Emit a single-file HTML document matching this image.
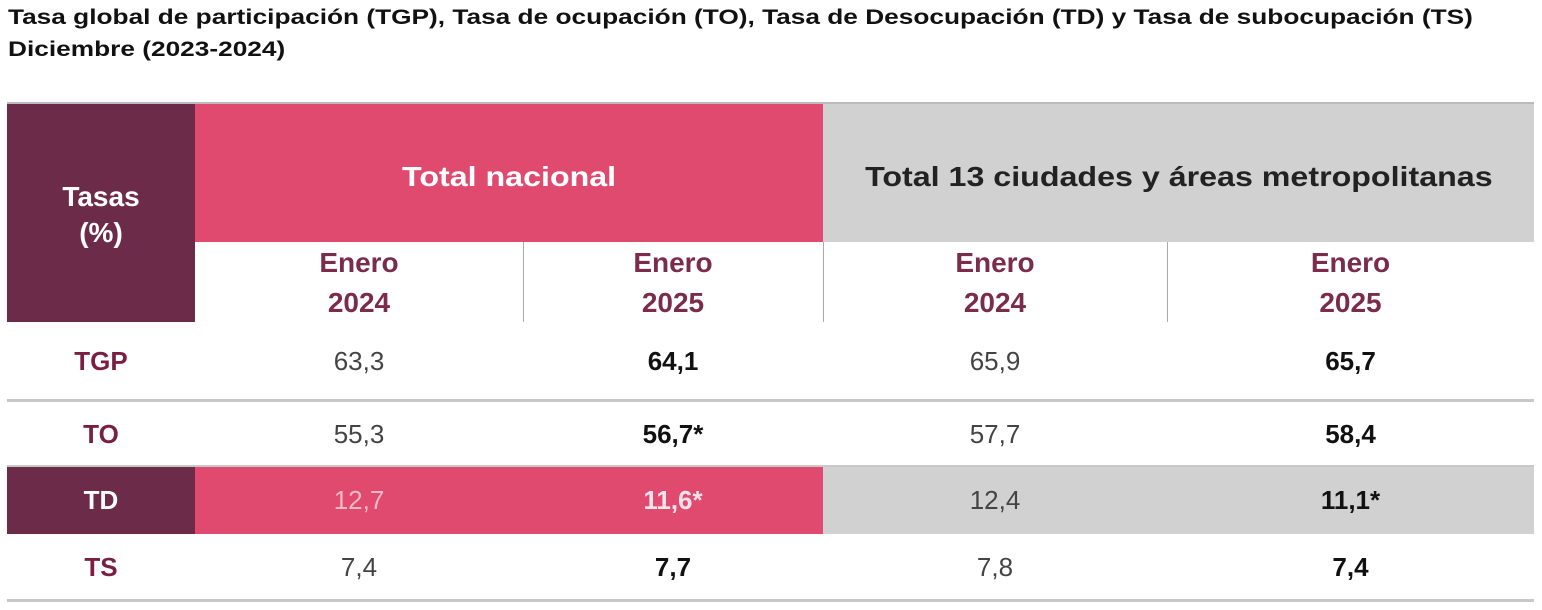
<!DOCTYPE html>
<html><head><meta charset="utf-8"><style>
body{margin:0;width:1542px;height:610px;background:#fff;font-family:"Liberation Sans",sans-serif;overflow:hidden;position:relative}
.t{position:absolute;left:8px;font-weight:bold;font-size:21px;color:#111;line-height:32px;transform:scaleX(1.25);transform-origin:left top;white-space:nowrap}
.b{position:absolute}
.c{position:absolute;display:flex;align-items:center;justify-content:center;text-align:center}
.hd{font-weight:bold;font-size:28px;color:#7a2c4a;line-height:40px}
.v{font-size:26px;color:#444}
.vb{font-size:26px;color:#111;font-weight:bold}
.rl{font-size:26px;font-weight:bold;color:#7a1f42}
.sx{display:inline-block;transform:scaleX(1.15)}
</style></head><body>
<div class="t" style="top:2px">Tasa global de participación (TGP), Tasa de ocupación (TO), Tasa de Desocupación (TD) y Tasa de subocupación (TS)<br>Diciembre (2023-2024)</div>

<div class="b" style="left:7px;top:102px;width:1527px;height:3px;background:#bbb"></div>
<div class="b" style="left:7px;top:104px;width:188px;height:218px;background:#6b2b49"></div>
<div class="b" style="left:195px;top:104px;width:628px;height:138px;background:#e04a6f"></div>
<div class="b" style="left:823px;top:104px;width:711px;height:138px;background:#d1d1d1"></div>
<div class="c" style="left:7px;top:170px;width:188px;height:90px;color:#fff;font-weight:bold;font-size:28px;line-height:36px">Tasas<br>(%)</div>
<div class="c" style="left:195px;top:104px;width:628px;height:146px;color:#fff;font-weight:bold;font-size:28px"><span class="sx">Total nacional</span></div>
<div class="c" style="left:823px;top:104px;width:711px;height:146px;color:#222;font-weight:bold;font-size:28px"><span class="sx">Total 13 ciudades y áreas metropolitanas</span></div>

<div class="b" style="left:523px;top:242px;width:1px;height:80px;background:#aaa"></div>
<div class="b" style="left:823px;top:242px;width:1px;height:80px;background:#aaa"></div>
<div class="b" style="left:1167px;top:242px;width:1px;height:80px;background:#aaa"></div>
<div class="c hd" style="left:195px;top:244px;width:328px;height:78px">Enero<br>2024</div>
<div class="c hd" style="left:523px;top:244px;width:300px;height:78px">Enero<br>2025</div>
<div class="c hd" style="left:823px;top:244px;width:344px;height:78px">Enero<br>2024</div>
<div class="c hd" style="left:1167px;top:244px;width:367px;height:78px">Enero<br>2025</div>

<div class="b" style="left:7px;top:467px;width:188px;height:67px;background:#6b2b49"></div>
<div class="b" style="left:195px;top:467px;width:628px;height:67px;background:#e04a6f"></div>
<div class="b" style="left:823px;top:467px;width:711px;height:67px;background:#d1d1d1"></div>
<div class="b" style="left:7px;top:399px;width:1527px;height:3px;background:#c8c8c8"></div>
<div class="b" style="left:7px;top:465px;width:1527px;height:2px;background:#c8c8c8"></div>
<div class="b" style="left:7px;top:599px;width:1527px;height:3px;background:#c8c8c8"></div>

<div id="rows"></div>
<script>
const labels=["TGP","TO","TD","TS"];
const nac2024=["63,3","55,3","12,7","7,4"];
const nac2025=["64,1","56,7*","11,6*","7,7"];
const ciu2024=["65,9","57,7","12,4","7,8"];
const ciu2025=["65,7","58,4","11,1*","7,4"];
const tops=[322,402,467,534],hs=[78,64,67,66];
const cols=[[7,188],[195,328],[523,300],[823,344],[1167,367]];
const root=document.getElementById('rows');
function cell(x,w,y,h,txt,cls,name,color){const d=document.createElement('div');d.className='c '+cls;d.style.cssText=`left:${x}px;top:${y}px;width:${w}px;height:${h}px`+(color?`;color:${color}`:'');d.textContent=txt;


root.appendChild(d);}
labels.forEach((l,i)=>{const td=l==="TD";
cell(cols[0][0],cols[0][1],tops[i],hs[i],l,'rl','row-label-'+l.toLowerCase(),td?'#fff':null);
cell(cols[1][0],cols[1][1],tops[i],hs[i],nac2024[i],'v','nac-2024-'+l.toLowerCase(),td?'#f3b9c8':null);
cell(cols[2][0],cols[2][1],tops[i],hs[i],nac2025[i],'vb','nac-2025-'+l.toLowerCase(),td?'#fbe3ea':null);
cell(cols[3][0],cols[3][1],tops[i],hs[i],ciu2024[i],'v','ciu-2024-'+l.toLowerCase(),null);
cell(cols[4][0],cols[4][1],tops[i],hs[i],ciu2025[i],'vb','ciu-2025-'+l.toLowerCase(),null);});
</script>
</body></html>
